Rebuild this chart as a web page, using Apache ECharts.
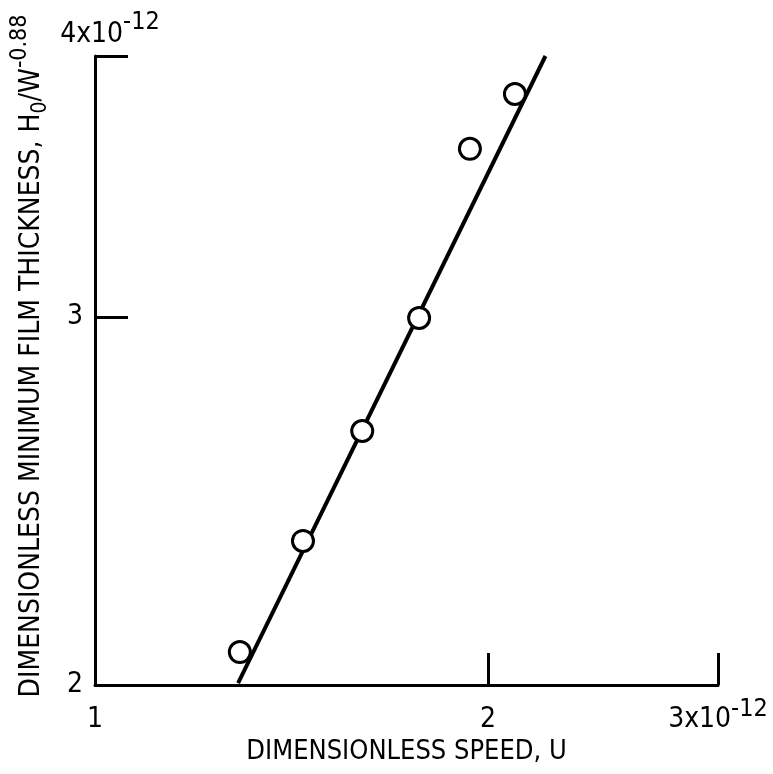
<!DOCTYPE html>
<html>
<head>
<meta charset="utf-8">
<script src="https://cdn.jsdelivr.net/npm/echarts@6/dist/echarts.min.js"></script>
<style>
html,body{margin:0;padding:0;background:#fff;}
#chart{width:773px;height:774px;}
</style>
</head>
<body>
<div id="chart"></div>
<script>
// Data (x10^-12 units)
const speedU = [1.291, 1.443, 1.602, 1.771, 1.937, 2.097];
const filmH = [2.074, 2.344, 2.646, 2.997, 3.611, 3.836];
const fitU = [1.287, 2.213];
const fitH = [2.004, 4.0];
const xTickValues = [2, 3];
const xLabelValues = [1, 2, 3];
const yTickValues = [3, 4];
const yLabelValues = [2, 3];

const FONT = '"Liberation Sans Narrow", "DejaVu Sans Condensed", "Roboto Condensed", sans-serif';

const chart = echarts.init(document.getElementById('chart'), null, {renderer: 'canvas'});
const option = {
  animation: false,
  backgroundColor: '#fff',
  grid: {left: 95, right: 55, top: 56, bottom: 89, containLabel: false},
  xAxis: {
    type: 'log', logBase: 10, min: 1, max: 3,
    name: 'DIMENSIONLESS SPEED, U',
    nameLocation: 'middle', nameGap: 51,
    nameTextStyle: {fontFamily: FONT, fontSize: 27, color: '#000'},
    axisLine: {onZero: false, lineStyle: {color: '#000', width: 3}},
    axisTick: {show: true, inside: true, length: 32, lineStyle: {color: '#000', width: 3}, customValues: xTickValues},
    minorTick: {show: false},
    splitLine: {show: false},
    axisLabel: {
      customValues: xLabelValues,
      margin: 12,
      fontFamily: FONT, fontSize: 28, color: '#000',
      formatter: function (v) {
        if (Math.abs(v - 3) < 1e-6) return '{b|3x10}{s|-12}';
        return '{b|' + Math.round(v) + '}';
      },
      rich: {
        b: {fontFamily: FONT, fontSize: 28, color: '#000', padding: [9, 0, 0, 0]},
        s: {fontFamily: FONT, fontSize: 25, color: '#000', verticalAlign: 'top'}
      }
    }
  },
  yAxis: {
    type: 'log', logBase: 10, min: 2, max: 4,
    name: '{b|4x10}{s|-12}',
    nameLocation: 'end', nameGap: 7,
    nameTextStyle: {
      fontFamily: FONT, fontSize: 28, color: '#000', padding: [0, 0, 0, 30],
      rich: {
        b: {fontFamily: FONT, fontSize: 28, color: '#000', padding: [11, 0, 0, 0]},
        s: {fontFamily: FONT, fontSize: 25, color: '#000', verticalAlign: 'top'}
      }
    },
    axisLine: {onZero: false, lineStyle: {color: '#000', width: 3}},
    axisTick: {show: true, inside: true, length: 33, lineStyle: {color: '#000', width: 3}, customValues: yTickValues},
    minorTick: {show: false},
    splitLine: {show: false},
    axisLabel: {
      customValues: yLabelValues,
      margin: 12,
      fontFamily: FONT, fontSize: 28, color: '#000',
      formatter: function (v) { return String(Math.round(v)); }
    }
  },
  graphic: [{
    type: 'text',
    x: 30, y: 356,
    rotation: Math.PI / 2,
    style: {
      text: '{b|DIMENSIONLESS MINIMUM FILM THICKNESS, H}{sub|0}{b|/W}{sup|-0.88}',
      align: 'center', verticalAlign: 'middle',
      rich: {
        b: {fontFamily: FONT, fontSize: 28, fill: '#000', padding: [9, 0, 5, 0]},
        sub: {fontFamily: FONT, fontSize: 21, fill: '#000', verticalAlign: 'bottom'},
        sup: {fontFamily: FONT, fontSize: 23, fill: '#000', verticalAlign: 'top'}
      }
    }
  }],
  series: [
    {
      type: 'line',
      data: fitU.map((u, i) => [u, fitH[i]]),
      showSymbol: false,
      symbol: 'none',
      clip: false,
      lineStyle: {color: '#000', width: 4},
      z: 2
    },
    {
      type: 'scatter',
      data: speedU.map((u, i) => [u, filmH[i]]),
      symbol: 'circle',
      symbolSize: 21,
      itemStyle: {color: '#fff', borderColor: '#000', borderWidth: 3, opacity: 1},
      z: 3
    }
  ]
};
chart.setOption(option);
</script>
</body>
</html>
